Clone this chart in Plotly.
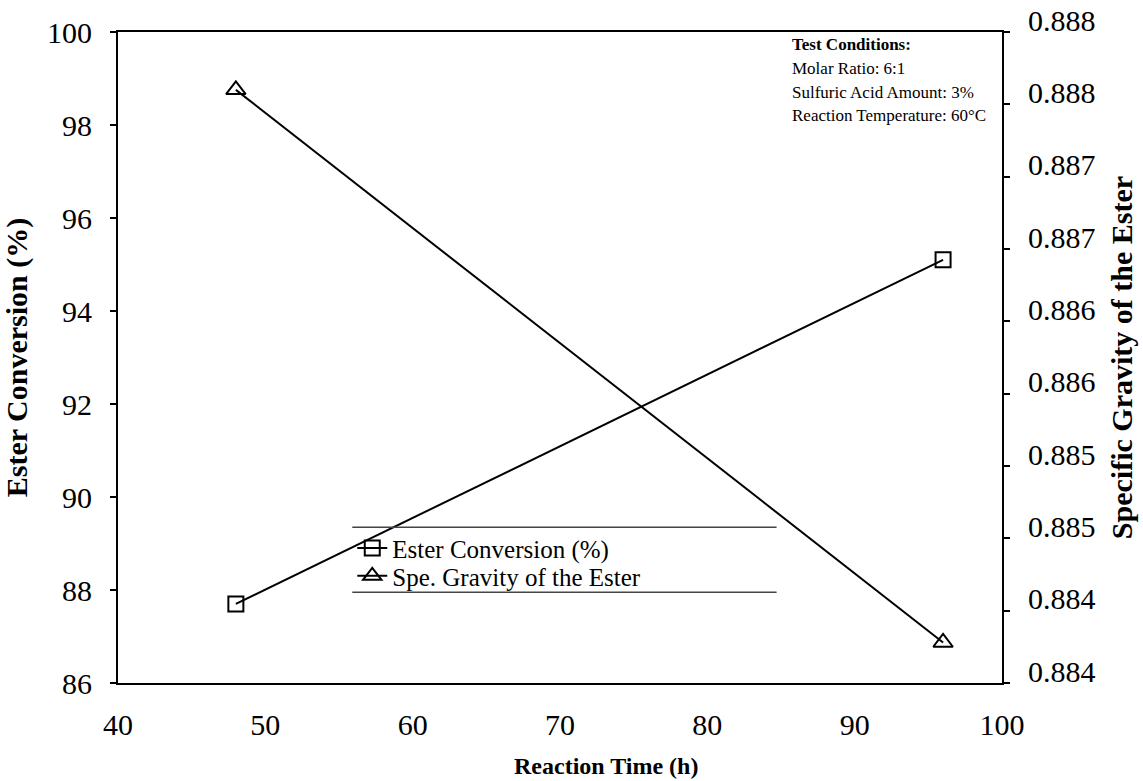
import plotly.graph_objects as go

# Reaction time (h) and the two measured responses
time_h = [48, 96]
ester_conversion = [87.7, 95.1]          # %
specific_gravity = [0.8881, 0.88428]     # specific gravity of the ester

# Axis tick definitions
x_ticks = [40, 50, 60, 70, 80, 90, 100]
y_ticks = [86, 88, 90, 92, 94, 96, 98, 100]
sg_tick_vals = [0.8840, 0.8845, 0.8850, 0.8855, 0.8860, 0.8865, 0.8870, 0.8875, 0.8880, 0.8885]
sg_tick_text = ["0.884", "0.884", "0.885", "0.885", "0.886", "0.886", "0.887", "0.887", "0.888", "0.888"]

conditions = ["<b>Test Conditions:</b>",
              "Molar Ratio: 6:1",
              "Sulfuric Acid Amount: 3%",
              "Reaction Temperature: 60°C"]

SERIF = "Liberation Serif, Times New Roman, serif"
Y_LO, Y_HI = 86, 100
PLOT_H = 781 - 32 - 98   # plot area height in px

fig = go.Figure()
fig.add_trace(go.Scatter(
    x=time_h, y=ester_conversion, name="Ester Conversion (%)",
    mode="lines+markers", legend="legend",
    line=dict(color="black", width=2),
    marker=dict(symbol="square-open", size=15, color="black", line=dict(width=2)),
))
fig.add_trace(go.Scatter(
    x=time_h, y=specific_gravity, name="Spe. Gravity of the Ester",
    yaxis="y2", mode="lines+markers", legend="legend2",
    line=dict(color="black", width=2),
    marker=dict(symbol="triangle-up-open", size=17, color="black", line=dict(width=2)),
))

# thin rules above and below the legend block
for yv in (89.35, 87.95):
    fig.add_shape(type="line", xref="paper", yref="y",
                  x0=0.265, x1=0.745, y0=yv, y1=yv,
                  line=dict(color="#444", width=1.5))

# test-condition notes, one line each
for i, line in enumerate(conditions):
    fig.add_annotation(
        xref="paper", yref="paper", x=0.7606, y=1 - (13 + i * 23.5) / PLOT_H,
        xanchor="left", yanchor="middle", align="left", showarrow=False,
        text=line, font=dict(family=SERIF, size=17, color="black"),
    )

# x-axis title
fig.add_annotation(
    xref="paper", yref="paper", x=0.552, y=-0.1275,
    xanchor="center", yanchor="middle", showarrow=False,
    text="<b>Reaction Time (h)</b>",
    font=dict(family=SERIF, size=24, color="black"),
)

legend_common = dict(
    x=0.265, xanchor="left", yanchor="middle",
    bgcolor="rgba(0,0,0,0)", borderwidth=0,
    font=dict(family=SERIF, size=25, color="black"),
    itemwidth=30,
)

fig.update_layout(
    width=1143, height=781,
    margin=dict(l=118, r=141, t=32, b=98),
    paper_bgcolor="white", plot_bgcolor="white",
    font=dict(family=SERIF, color="black", size=30),
    showlegend=True,
    legend=dict(y=(88.9 - Y_LO) / (Y_HI - Y_LO), **legend_common),
    legend2=dict(y=(88.3 - Y_LO) / (Y_HI - Y_LO), **legend_common),
    xaxis=dict(
        range=[40, 100], tickvals=x_ticks, showgrid=False, zeroline=False,
        showline=True, linecolor="black", linewidth=2, mirror=True,
        ticks="", ticklabelstandoff=14, automargin=False,
        tickfont=dict(family=SERIF, size=30),
    ),
    yaxis=dict(
        range=[Y_LO, Y_HI], tickvals=y_ticks, showgrid=False, zeroline=False,
        showline=True, linecolor="black", linewidth=2,
        ticks="outside", ticklen=6, tickwidth=1.5, tickcolor="black",
        ticklabelstandoff=12, automargin=False,
        tickfont=dict(family=SERIF, size=30),
        title=dict(text="<b>Ester Conversion (%)</b>", standoff=14,
                   font=dict(family=SERIF, size=30)),
    ),
    yaxis2=dict(
        overlaying="y", side="right",
        range=[0.8840, 0.8885], tickvals=sg_tick_vals, ticktext=sg_tick_text,
        showgrid=False, zeroline=False,
        showline=True, linecolor="black", linewidth=2,
        ticks="outside", ticklen=6, tickwidth=1.5, tickcolor="black",
        ticklabelstandoff=12, ticklabelshift=-12, automargin=False,
        tickfont=dict(family=SERIF, size=30),
        title=dict(text="<b>Specific Gravity of the Ester</b>", standoff=16,
                   font=dict(family=SERIF, size=30)),
    ),
)

fig.write_html("out.html")
